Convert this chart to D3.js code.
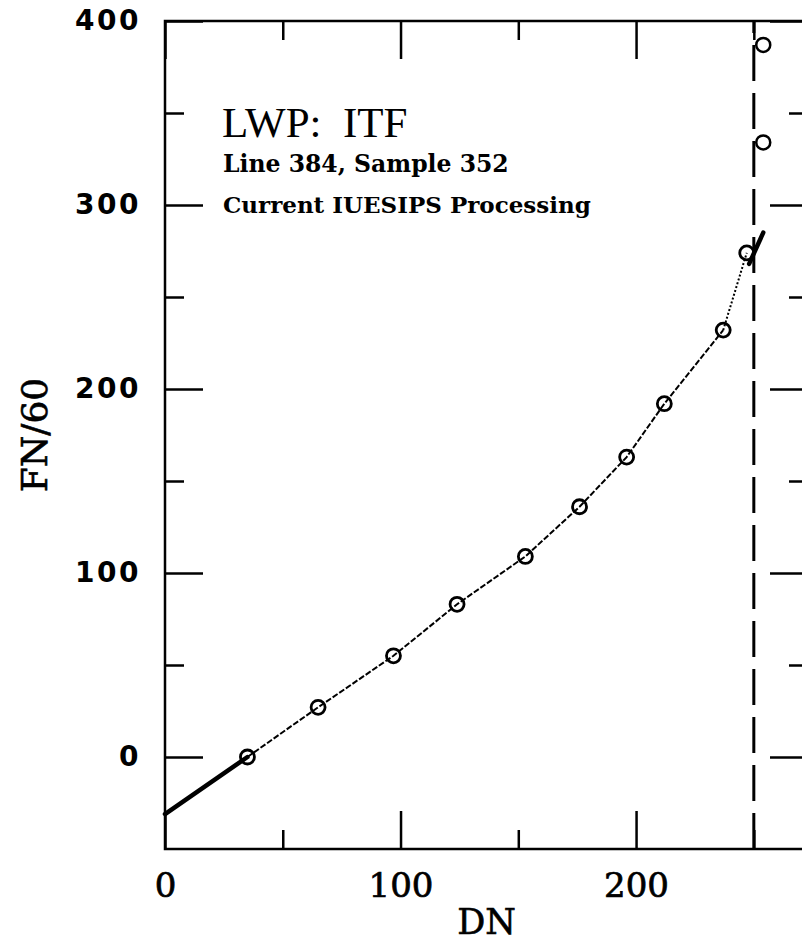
<!DOCTYPE html>
<html>
<head>
<meta charset="utf-8">
<script src="https://cdn.jsdelivr.net/npm/d3@7"></script>
<style>
  body { margin: 0; background: #fff; }
  svg { display: block; }
</style>
</head>
<body>
<div id="chart"></div>
<script>
// ITF points (DN vs FN/60)
const dnValues = [35, 65, 97, 124, 153, 176, 196, 212, 237, 247]
const fnValues = [0, 27, 55, 83, 109, 136, 163, 192, 232, 274]
// saturated points past the dashed line
const satDn = [254, 254]
const satFn = [387, 334]
// extrapolated ends (thick strokes)
const lowExtrap = [[0, -31], [35, 0]]
const highExtrap = [[248, 268], [254, 285]]
const saturationDn = 250

const xMajor = [0, 100, 200]
const xMinor = [50, 150, 250]
const yMajor = [0, 100, 200, 300, 400]
const yMinor = [50, 150, 250, 350]

const titleLines = ["LWP:  ITF", "Line 384, Sample 352", "Current IUESIPS Processing"]

const W = 802, H = 944

svg = d3.select('#chart').append('svg')
  .attr('width', W)
  .attr('height', H)

x = d3.scaleLinear().domain([0, 273]).range([165, 808])
y = d3.scaleLinear().domain([-50, 400]).range([849, 21])

const majorLen = 38, minorLen = 19

// frame
svg.append('rect')
  .attr('x', x(0)).attr('y', y(400))
  .attr('width', x(273) - x(0)).attr('height', y(-50) - y(400))
  .attr('fill', 'none').attr('stroke', '#000').attr('stroke-width', 2.5)

function styleAxis(g) {
  g.select('.domain').remove()
  g.selectAll('.tick line').attr('stroke', '#000').attr('stroke-width', 2.5)
}

// bottom
svg.append('g').attr('transform', `translate(0,${y(-50)})`)
  .call(d3.axisBottom(x).tickValues(xMajor).tickSizeInner(-majorLen).tickSizeOuter(0).tickPadding(24))
  .call(styleAxis)
  .call(g => g.selectAll('text')
    .attr('font-family', 'DejaVu Serif').attr('font-size', 34).attr('fill', '#000')
    .attr('stroke', '#000').attr('stroke-width', 0.7))
svg.append('g').attr('transform', `translate(0,${y(-50)})`)
  .call(d3.axisBottom(x).tickValues(xMinor).tickSizeInner(-minorLen).tickSizeOuter(0).tickFormat(() => ''))
  .call(styleAxis)

// top
svg.append('g').attr('transform', `translate(0,${y(400)})`)
  .call(d3.axisTop(x).tickValues(xMajor).tickSizeInner(-majorLen).tickSizeOuter(0).tickFormat(() => ''))
  .call(styleAxis)
svg.append('g').attr('transform', `translate(0,${y(400)})`)
  .call(d3.axisTop(x).tickValues(xMinor).tickSizeInner(-minorLen).tickSizeOuter(0).tickFormat(() => ''))
  .call(styleAxis)

// left
svg.append('g').attr('transform', `translate(${x(0)},0)`)
  .call(d3.axisLeft(y).tickValues(yMajor).tickSizeInner(-majorLen).tickSizeOuter(0).tickPadding(24))
  .call(styleAxis)
  .call(g => g.selectAll('text')
    .attr('font-family', 'DejaVu Sans').attr('font-weight', 'bold')
    .attr('font-size', 28).attr('letter-spacing', 2.5).attr('fill', '#000'))
svg.append('g').attr('transform', `translate(${x(0)},0)`)
  .call(d3.axisLeft(y).tickValues(yMinor).tickSizeInner(-minorLen).tickSizeOuter(0).tickFormat(() => ''))
  .call(styleAxis)

// right
svg.append('g').attr('transform', `translate(${x(273)},0)`)
  .call(d3.axisRight(y).tickValues(yMajor).tickSizeInner(-majorLen).tickSizeOuter(0).tickFormat(() => ''))
  .call(styleAxis)
svg.append('g').attr('transform', `translate(${x(273)},0)`)
  .call(d3.axisRight(y).tickValues(yMinor).tickSizeInner(-minorLen).tickSizeOuter(0).tickFormat(() => ''))
  .call(styleAxis)

// axis titles
svg.append('text')
  .attr('x', (x(0) + x(273)) / 2).attr('y', 934)
  .attr('text-anchor', 'middle')
  .attr('font-family', 'DejaVu Serif').attr('font-size', 35)
  .attr('stroke', '#000').attr('stroke-width', 0.6)
  .text('DN')

svg.append('text')
  .attr('transform', `translate(47,${(y(400) + y(-50)) / 2}) rotate(-90)`)
  .attr('text-anchor', 'middle')
  .attr('font-family', 'DejaVu Serif').attr('font-size', 36)
  .attr('stroke', '#000').attr('stroke-width', 0.6)
  .text('FN/60')

// saturation line
svg.append('line')
  .attr('x1', x(saturationDn)).attr('x2', x(saturationDn))
  .attr('y1', y(-50)).attr('y2', y(400))
  .attr('stroke', '#000').attr('stroke-width', 3)
  .attr('stroke-dasharray', '36,12')

const pts = dnValues.map((d, i) => [d, fnValues[i]])
line = d3.line().x(d => x(d[0])).y(d => y(d[1]))

// fitted curve
svg.append('path')
  .attr('d', line(pts.slice(0, pts.length - 1)))
  .attr('fill', 'none').attr('stroke', '#000').attr('stroke-width', 2)
  .attr('stroke-dasharray', '6,2')
svg.append('path')
  .attr('d', line(pts.slice(pts.length - 2)))
  .attr('fill', 'none').attr('stroke', '#000').attr('stroke-width', 2)
  .attr('stroke-dasharray', '2,2')

// thick extrapolations
;[lowExtrap, highExtrap].forEach(seg => {
  svg.append('path')
    .attr('d', line(seg))
    .attr('fill', 'none').attr('stroke', '#000').attr('stroke-width', 4.5)
    .attr('stroke-linecap', 'round')
})

// markers
svg.selectAll('circle.pt')
  .data(pts)
  .join('circle')
    .attr('class', 'pt')
    .attr('cx', d => x(d[0]))
    .attr('cy', d => y(d[1]))
    .attr('r', 7)
    .attr('fill', 'none').attr('stroke', '#000').attr('stroke-width', 2.8)

svg.selectAll('circle.sat')
  .data(satDn.map((d, i) => [d, satFn[i]]))
  .join('circle')
    .attr('class', 'sat')
    .attr('cx', d => x(d[0]))
    .attr('cy', d => y(d[1]))
    .attr('r', 7)
    .attr('fill', '#fff').attr('stroke', '#000').attr('stroke-width', 2.5)

// annotation
svg.append('text')
  .attr('x', 222).attr('y', 137)
  .attr('font-family', 'Liberation Serif').attr('font-size', 43)
  .attr('xml:space', 'preserve').style('white-space', 'pre')
  .text(titleLines[0])
svg.append('text')
  .attr('x', 223).attr('y', 172)
  .attr('font-family', 'DejaVu Serif').attr('font-weight', 'bold').attr('font-size', 23.5)
  .text(titleLines[1])
svg.append('text')
  .attr('x', 223).attr('y', 213)
  .attr('font-family', 'DejaVu Serif').attr('font-weight', 'bold').attr('font-size', 23)
  .text(titleLines[2])
</script>
</body>
</html>
